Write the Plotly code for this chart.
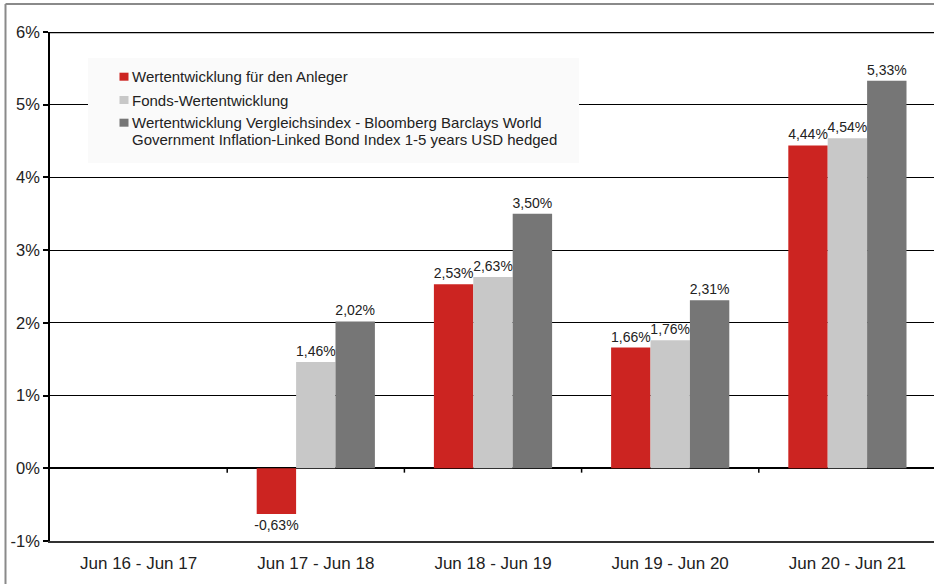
import plotly.graph_objects as go

categories = ["Jun 16 - Jun 17", "Jun 17 - Jun 18", "Jun 18 - Jun 19", "Jun 19 - Jun 20", "Jun 20 - Jun 21"]
series_names = [
    "Wertentwicklung für den Anleger",
    "Fonds-Wertentwicklung",
    "Wertentwicklung Vergleichsindex - Bloomberg Barclays World<br>Government Inflation-Linked Bond Index 1-5 years USD hedged",
]
anleger = [None, -0.63, 2.53, 1.66, 4.44]
fonds = [None, 1.46, 2.63, 1.76, 4.54]
index_vals = [None, 2.02, 3.50, 2.31, 5.33]
y_ticks = [-1, 0, 1, 2, 3, 4, 5, 6]
y_tick_labels = ["-1%", "0%", "1%", "2%", "3%", "4%", "5%", "6%"]

colors = ["#cc2421", "#c8c8c8", "#767676"]
series_values = [anleger, fonds, index_vals]

W, H = 934, 584
ML, MR, MT, MB = 50, 0, 32, 43
PW, PH = W - ML - MR, H - MT - MB

def px_x(x):
    return (x - ML) / PW

def px_y(y):
    return (H - MB - y) / PH

FONT = "Liberation Sans, Arial, sans-serif"
TXT = "#222222"

fig = go.Figure()
for name, vals, col in zip(series_names, series_values, colors):
    fig.add_trace(go.Bar(
        x=categories, y=vals, name=name,
        marker=dict(color=col, line=dict(width=0)),
        texttemplate="%{y:.2f}%", textposition="outside",
        textfont=dict(family=FONT, size=14, color=TXT),
        constraintext="none",
        cliponaxis=False, showlegend=False,
    ))

shapes = []
# top border line of plot (6%)
shapes.append(dict(type="line", xref="paper", yref="y", x0=0, x1=1, y0=y_ticks[-1], y1=y_ticks[-1],
                   line=dict(color="black", width=2.5), layer="above"))
# outer frame (gray)
shapes.append(dict(type="line", xref="paper", yref="paper", x0=px_x(5.5), x1=px_x(W + 5), y0=px_y(4), y1=px_y(4),
                   line=dict(color="#8a8a8a", width=2)))
shapes.append(dict(type="line", xref="paper", yref="paper", x0=px_x(5.5), x1=px_x(5.5), y0=px_y(4), y1=px_y(H + 5),
                   line=dict(color="#8a8a8a", width=2)))
# boundary ticks on zero line
for i in range(len(categories) - 1):
    shapes.append(dict(type="line", xref="x", yref="y", x0=i + 0.5, x1=i + 0.5, y0=0, y1=-0.06,
                       line=dict(color="black", width=1.5)))
# legend background
shapes.append(dict(type="rect", xref="paper", yref="paper", x0=px_x(88), x1=px_x(579), y0=px_y(163), y1=px_y(58),
                   fillcolor="#fafafa", line=dict(width=0), layer="above"))

annotations = []
legend_rows = [(76.7, [series_names[0]]), (100, [series_names[1]]), (122.7, series_names[2].split("<br>"))]
for (yc, lines), col in zip(legend_rows, colors):
    shapes.append(dict(type="rect", xref="paper", yref="paper", xsizemode="pixel", ysizemode="pixel",
                       xanchor=px_x(124), yanchor=px_y(yc), x0=-4.5, x1=4.5, y0=-4, y1=4,
                       fillcolor=col, line=dict(width=0), layer="above"))
    for k, ln in enumerate(lines):
        annotations.append(dict(xref="paper", yref="paper", x=px_x(130), y=px_y(yc + k * 16.7),
                                xanchor="left", yanchor="middle", text=ln, showarrow=False,
                                font=dict(family=FONT, size=15, color=TXT)))

fig.update_layout(
    width=W, height=H,
    margin=dict(l=ML, r=MR, t=MT, b=MB, pad=0, autoexpand=False),
    paper_bgcolor="white", plot_bgcolor="white",
    barmode="group", bargap=0.333, bargroupgap=0,
    separators=",.",
    font=dict(family=FONT, color=TXT),
    shapes=shapes, annotations=annotations,
    xaxis=dict(
        categoryorder="array", categoryarray=categories,
        range=[-0.5, len(categories) - 0.5 - 2 / 177],
        showline=True, linecolor="#333333", linewidth=1.5,
        showgrid=False, zeroline=False, ticks="",
        tickfont=dict(family=FONT, size=17, color=TXT),
        ticklabelstandoff=6, automargin=False,
    ),
    yaxis=dict(
        range=[y_ticks[0], y_ticks[-1]], tickvals=y_ticks, ticktext=y_tick_labels,
        showline=True, linecolor="black", linewidth=1.5,
        showgrid=True, gridcolor="black", gridwidth=1.2,
        zeroline=True, zerolinecolor="black", zerolinewidth=1.5,
        ticks="outside", ticklen=5, tickcolor="black", tickwidth=1.5,
        tickfont=dict(family=FONT, size=16.5, color=TXT),
        automargin=False,
    ),
)

fig.write_html("out.html", config={"displayModeBar": False},
               post_script="document.body.style.margin='0';document.body.style.overflow='hidden';")
